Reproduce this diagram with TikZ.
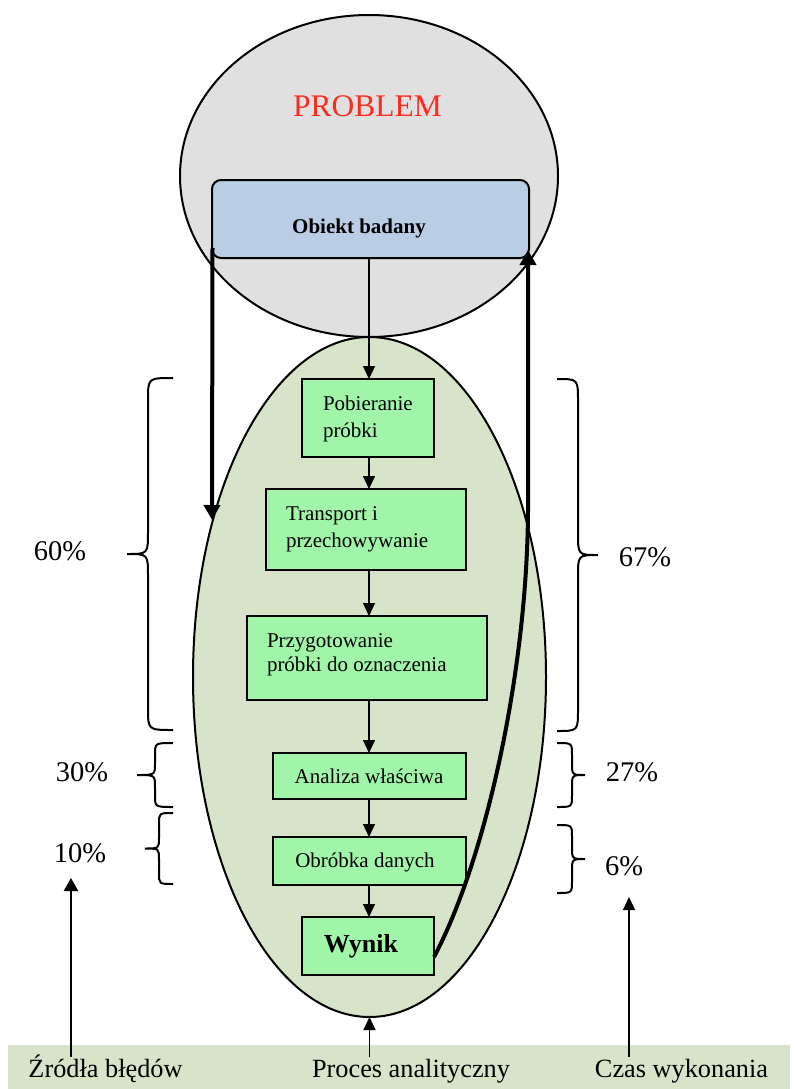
\documentclass[tikz,border=0pt]{standalone}
\usepackage{fontspec}
\setmainfont{Liberation Serif}
\usetikzlibrary{shapes.geometric,arrows.meta}
\definecolor{grayfill}{HTML}{E0E0E0}
\definecolor{bluefill}{HTML}{B9CDE5}
\definecolor{greenbg}{HTML}{D7E4C9}
\definecolor{boxgreen}{HTML}{A0F5A9}
\definecolor{probred}{HTML}{FF2B1C}
% curly brace: #1 end x, #2 spine x, #3 tip x, #4 top y, #5 bottom y, #6 curl radius
\newcommand\cbrace[6]{%
  \draw[brc] (#1,#4) .. controls (#2,#4) .. (#2,{#4+#6})
    -- (#2,{(#4+#5)/2-#6}) .. controls (#2,{(#4+#5)/2}) .. (#3,{(#4+#5)/2})
    .. controls (#2,{(#4+#5)/2}) .. (#2,{(#4+#5)/2+#6})
    -- (#2,{#5-#6}) .. controls (#2,#5) .. (#1,#5);}
\begin{document}
\begin{tikzpicture}[x=1pt,y=-1pt,
  every node/.style={outer sep=0pt},
  oval/.style={ellipse, draw, line width=2pt, inner sep=0pt},
  gbox/.style={rectangle, draw, line width=2.5pt, fill=boxgreen, inner sep=0pt},
  btxt/.style={font=\fontsize{21}{21}\selectfont, inner sep=0pt},
  pct/.style={font=\fontsize{28.5}{28.5}\selectfont, inner sep=0pt, anchor=base},
  lab/.style={font=\fontsize{26.3}{26.3}\selectfont, inner sep=2pt, text height=18pt, text depth=6pt, anchor=base},
  arr/.style={line width=1.2pt, -{Triangle[width=12pt,length=13pt]}},
  thickarr/.style={line width=4pt, -{Triangle[width=16pt,length=15pt]}},
  brc/.style={line width=2pt}]
\useasboundingbox (0,0) rectangle (795,1089);
\fill[white] (0,0) rectangle (795,1089);

% bottom bar
\fill[greenbg] (8,1045) rectangle (790,1089);

% ellipses
\node[oval, fill=grayfill, minimum width=378, minimum height=322] (prob) at (369,176) {};
\node[oval, fill=greenbg, minimum width=353, minimum height=680] (proc) at (369.5,677) {};

\node[font=\fontsize{31.5}{31.5}\selectfont, text=probred, anchor=base, inner sep=0pt] (ptxt) at (367.5,117) {PROBLEM};

% object box
\node[draw, line width=2pt, fill=bluefill, rounded corners=9pt, minimum width=317, minimum height=78, inner sep=0pt] (obj) at (370.5,219) {};
\node[font=\bfseries\fontsize{21}{21}\selectfont, inner sep=0pt, anchor=base] (objt) at (359,233) {Obiekt badany};

% process boxes
\node[gbox, minimum width=132, minimum height=78] (pob) at (368,418) {};
\node[gbox, minimum width=200, minimum height=81] (trans) at (366,529.5) {};
\node[gbox, minimum width=240, minimum height=84] (przyg) at (367,658) {};
\node[gbox, minimum width=193, minimum height=46] (anal) at (369.5,776) {};
\node[gbox, minimum width=193, minimum height=48] (obr) at (369.5,861) {};
\node[gbox, minimum width=132, minimum height=58] (wyn) at (368,946) {};

\node[btxt, anchor=base west] (pob1) at (323,410) {Pobieranie};
\node[btxt, anchor=base west] (pob2) at (323,437) {próbki};
\node[btxt, anchor=base west] (tr1) at (286,520) {Transport i};
\node[btxt, anchor=base west] (tr2) at (286,547) {przechowywanie};
\node[btxt, anchor=base west] (pr1) at (267,647) {Przygotowanie};
\node[btxt, anchor=base west] (pr2) at (267,671) {próbki do oznaczenia};
\node[btxt, anchor=base] (ant) at (369,783) {Analiza właściwa};
\node[btxt, anchor=base] (obt) at (365,867) {Obróbka danych};
\node[font=\bfseries\fontsize{26}{26}\selectfont, inner sep=0pt, anchor=base] (wyt) at (361,952) {Wynik};

% vertical flow arrows
\coordinate (ax) at (369,0);
\draw[arr] (obj.south -| ax) -- (pob.north -| ax);
\draw[arr] (pob.south -| ax) -- (trans.north -| ax);
\draw[arr] (trans.south -| ax) -- (przyg.north -| ax);
\draw[arr] (przyg.south -| ax) -- (anal.north -| ax);
\draw[arr] (anal.south -| ax) -- (obr.north -| ax);
\draw[arr] (obr.south -| ax) -- (wyn.north -| ax);

% thick feedback lines
\coordinate (lt) at (212,520);
\draw[thickarr] ([xshift=0.5pt,yshift=10pt]obj.south west) -- (lt);
\coordinate (rt) at (528,250);
\coordinate (rb) at (528,500);
\draw[thickarr] ([yshift=-11pt]wyn.east) .. controls (488,855) and (529,660) .. (rb) -- (rt);

% braces
\cbrace{173}{148}{127}{378}{730}{22}
\cbrace{173}{155}{137}{743}{807}{12}
\cbrace{173}{159}{145}{813}{884}{11}
\cbrace{557}{578}{598}{379}{731}{22}
\cbrace{557}{572}{585}{743}{807}{12}
\cbrace{557}{572}{585}{825}{893}{12}

% percentages
\node[pct] (p60) at (60,560) {60\%};
\node[pct] (p30) at (82,781) {30\%};
\node[pct] (p10) at (80,862) {10\%};
\node[pct] (p67) at (645,566) {67\%};
\node[pct] (p27) at (632,781) {27\%};
\node[pct] (p6) at (624,875) {6\%};

% bottom labels
\node[lab] (zrodla) at (105.5,1077) {Źródła błędów};
\node[lab] (proces) at (411,1077) {Proces analityczny};
\node[lab] (czas) at (681.5,1077) {Czas wykonania};

\coordinate (zt) at (71,878);
\coordinate (ct) at (629,897);
\draw[line width=2.5pt, -{Triangle[width=14pt,length=13pt]}] (zrodla.north -| zt) -- (zt);
\draw[arr] (czas.north -| ct) -- (ct);
\draw[arr] (proces.north -| proc.south) -- (proc.south);
\end{tikzpicture}
\end{document}
